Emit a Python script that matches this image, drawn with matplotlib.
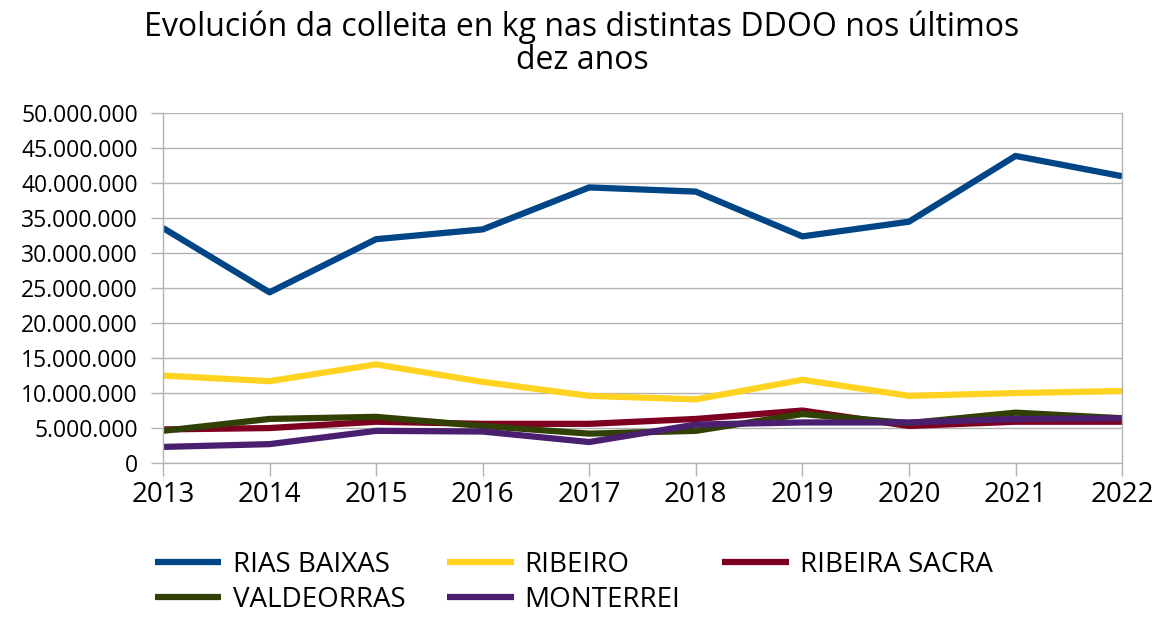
import matplotlib
matplotlib.use("Agg")
import matplotlib.pyplot as plt
from matplotlib.ticker import FuncFormatter

# years and harvest (kg) per DO
years = ["2013", "2014", "2015", "2016", "2017", "2018", "2019", "2020", "2021", "2022"]

rias_baixas = [33.6e6, 24.4e6, 32.0e6, 33.4e6, 39.4e6, 38.8e6, 32.4e6, 34.5e6, 43.9e6, 41.0e6]
ribeiro = [12.5e6, 11.7e6, 14.1e6, 11.6e6, 9.6e6, 9.1e6, 11.9e6, 9.6e6, 10.0e6, 10.3e6]
ribeira_sacra = [4.8e6, 5.0e6, 5.9e6, 5.6e6, 5.6e6, 6.3e6, 7.5e6, 5.3e6, 5.9e6, 5.9e6]
valdeorras = [4.6e6, 6.3e6, 6.6e6, 5.3e6, 4.2e6, 4.6e6, 7.0e6, 5.7e6, 7.2e6, 6.4e6]
monterrei = [2.3e6, 2.7e6, 4.6e6, 4.5e6, 3.0e6, 5.5e6, 5.8e6, 5.8e6, 6.3e6, 6.4e6]

names = ["RIAS BAIXAS", "RIBEIRO", "RIBEIRA SACRA", "VALDEORRAS", "MONTERREI"]
colors = ["#004586", "#ffd320", "#7e0021", "#314004", "#4b1f6f"]

plt.rcParams['font.family'] = ['Open Sans', 'DejaVu Sans']

fig = plt.figure(figsize=(11.64, 6.19), dpi=100)
ax = fig.add_axes([0.140, 0.252, 0.824, 0.565])

series = [rias_baixas, ribeiro, ribeira_sacra, valdeorras, monterrei]
x = range(len(years))
lines = []
for vals, name, col in zip(series, names, colors):
    ln, = ax.plot(x, vals, color=col, linewidth=4.5, label=name, solid_capstyle="butt")
    lines.append(ln)

ax.set_xlim(0, len(years) - 1)
ax.set_ylim(0, 50e6)
ax.set_yticks([i * 5e6 for i in range(11)])
ax.yaxis.set_major_formatter(FuncFormatter(lambda v, p: f"{int(v):,}".replace(",", ".")))
ax.set_xticks(list(x))
ax.set_xticklabels(years)

ax.grid(axis="y", color="#b3b3b3", linewidth=1)
ax.set_axisbelow(True)
ax.spines["top"].set_visible(False)
for s in ["left", "right", "bottom"]:
    ax.spines[s].set_color("#b3b3b3")
    ax.spines[s].set_linewidth(1)
ax.tick_params(axis="y", colors="#b3b3b3", labelcolor="black", labelsize=16.5, length=9, width=1, pad=9)
ax.tick_params(axis="x", colors="#b3b3b3", labelcolor="black", labelsize=20, length=9, width=1, pad=4)

fig.suptitle("Evolución da colleita en kg nas distintas DDOO nos últimos\ndez anos",
             fontsize=23, y=0.983, linespacing=1.0)

# legend is filled column by column, so reorder to read row by row
order = [0, 3, 1, 4, 2]
fig.legend([lines[i] for i in order], [names[i] for i in order],
           loc="upper left", bbox_to_anchor=(0.133, 0.110), ncol=3, frameon=False,
           fontsize=20, handlelength=2.4, columnspacing=1.5, handletextpad=0.4,
           labelspacing=0.25, borderpad=0, borderaxespad=0)

fig.savefig("out.png", dpi=100)
